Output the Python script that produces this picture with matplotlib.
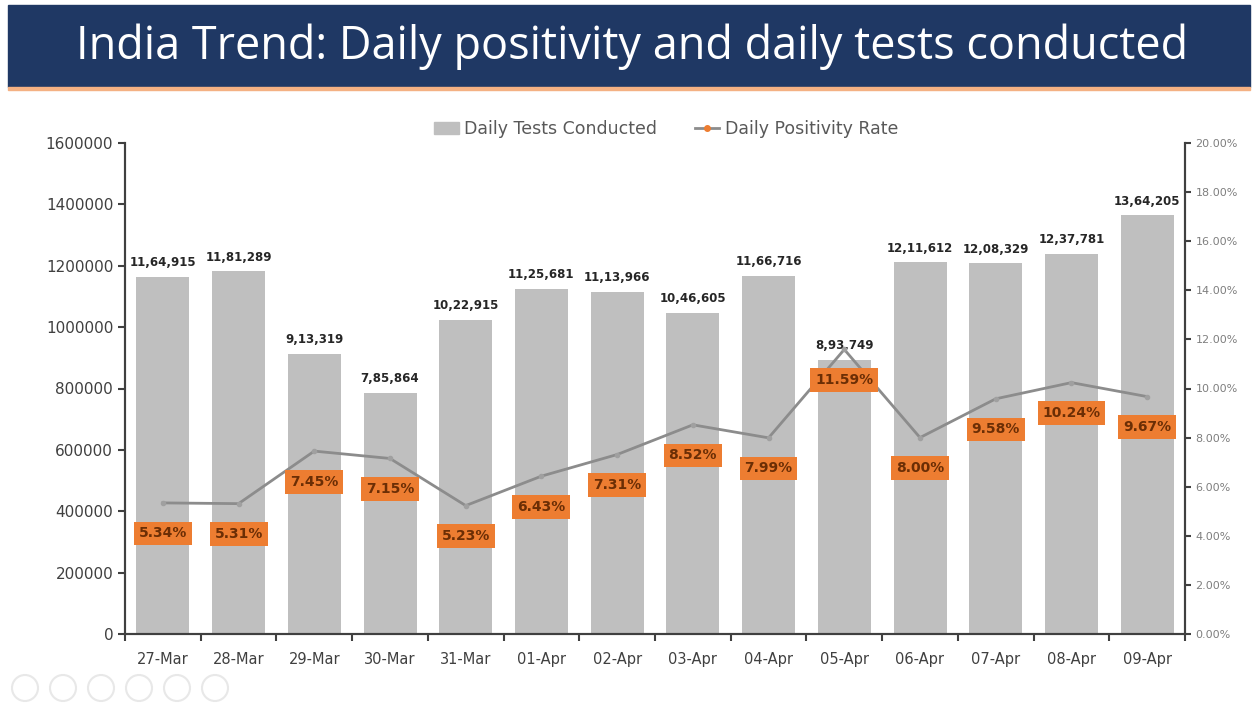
import numpy as np
import matplotlib.pyplot as plt
from matplotlib.patches import Rectangle, Ellipse
from matplotlib.lines import Line2D

dates = ['27-Mar', '28-Mar', '29-Mar', '30-Mar', '31-Mar', '01-Apr', '02-Apr',
         '03-Apr', '04-Apr', '05-Apr', '06-Apr', '07-Apr', '08-Apr', '09-Apr']
tests = [1164915, 1181289, 913319, 785864, 1022915, 1125681, 1113966,
         1046605, 1166716, 893749, 1211612, 1208329, 1237781, 1364205]
positivity = [5.34, 5.31, 7.45, 7.15, 5.23, 6.43, 7.31,
              8.52, 7.99, 11.59, 8.00, 9.58, 10.24, 9.67]
left_ticks = [0, 200000, 400000, 600000, 800000, 1000000, 1200000, 1400000, 1600000]
right_ticks = [0, 2, 4, 6, 8, 10, 12, 14, 16, 18, 20]


def indian(n):
    s = str(n)
    last3, rest = s[-3:], s[:-3]
    parts = []
    while len(rest) > 2:
        parts.insert(0, rest[-2:])
        rest = rest[:-2]
    if rest:
        parts.insert(0, rest)
    return ','.join(parts + [last3])


fig = plt.figure(figsize=(12.57, 7.06), dpi=100)

# title banner
fig.patches.append(Rectangle((8 / 1257, 1 - 87 / 706), 1242 / 1257, 82 / 706,
                             transform=fig.transFigure, color='#1F3864', zorder=0))
fig.patches.append(Rectangle((8 / 1257, 1 - 90 / 706), 1242 / 1257, 3 / 706,
                             transform=fig.transFigure, color='#F4B183', zorder=0))
fig.text(0.503, 1 - 47 / 706, 'India Trend: Daily positivity and daily tests conducted',
         ha='center', va='center', color='white', fontsize=32.4, family='Open Sans')

ax = fig.add_axes([125 / 1257, 1 - 634 / 706, 1060 / 1257, 491 / 706])
x = np.arange(len(dates))
ax.bar(x, tests, width=0.7, color='#BFBFBF', zorder=1)
ax.set_xlim(-0.5, len(dates) - 0.5)
ax.set_ylim(0, 1600000)
ax.set_yticks(left_ticks)
ax.set_yticklabels([str(v) for v in left_ticks], fontsize=11, color='#404040')
ax.set_xticks(x)
ax.set_xticklabels(dates, fontsize=10.5, color='#404040')
ax.tick_params(axis='x', length=0, pad=13)
ax.set_xticks(np.arange(len(dates) + 1) - 0.5, minor=True)
ax.tick_params(axis='x', which='minor', length=5, color='#404040', width=1.5)
ax.tick_params(axis='y', length=5, color='#404040', width=1.5)
for s in ['left', 'bottom', 'right']:
    ax.spines[s].set_color('#404040')
    ax.spines[s].set_linewidth(1.5)
ax.spines['top'].set_visible(False)

for xi, v in zip(x, tests):
    ax.text(xi, v + 25000, indian(v), ha='center', va='bottom', fontsize=8.5,
            fontweight='bold', color='#262626', zorder=4)

ax2 = ax.twinx()
ax2.plot(x, positivity, color='#8C8C8C', lw=2, marker='o', ms=3,
         mfc='#A0A0A0', mec='#A0A0A0', zorder=3)
ax2.set_ylim(0, 20)
ax2.set_yticks(right_ticks)
ax2.set_yticklabels(['%.2f%%' % v for v in right_ticks], fontsize=8, color='#7F7F7F')
ax2.tick_params(axis='y', length=4, color='#404040', width=1.5)
for s in ['left', 'bottom', 'right']:
    ax2.spines[s].set_color('#404040')
    ax2.spines[s].set_linewidth(1.5)
ax2.spines['top'].set_visible(False)

for xi, p in zip(x, positivity):
    ax2.annotate('%.2f%%' % p, (xi, p), xytext=(0, -22), textcoords='offset points',
                 ha='center', va='center', fontsize=10, fontweight='bold', color='#6B2E05',
                 bbox=dict(boxstyle='square,pad=0.35', fc='#ED7D31', ec='none'), zorder=5)

handles = [Rectangle((0, 0), 1, 1, color='#BFBFBF'),
           Line2D([], [], color='#8C8C8C', lw=2, marker='o', ms=4, mfc='#ED7D31', mec='#ED7D31')]
fig.legend(handles, ['Daily Tests Conducted', 'Daily Positivity Rate'], loc='center',
           bbox_to_anchor=(0.53, 1 - 129 / 706), ncol=2, frameon=False, fontsize=12.5,
           labelcolor='#595959', handlelength=1.4, columnspacing=2.2, handletextpad=0.3)

# faint slideshow controls
for i in range(6):
    fig.patches.append(Ellipse(((25 + i * 38) / 1257, 1 - 688 / 706), 26 / 1257, 26 / 706,
                               transform=fig.transFigure, fill=False, ec='#E8E8E8', lw=1.5))

fig.savefig('out.png', dpi=100)
